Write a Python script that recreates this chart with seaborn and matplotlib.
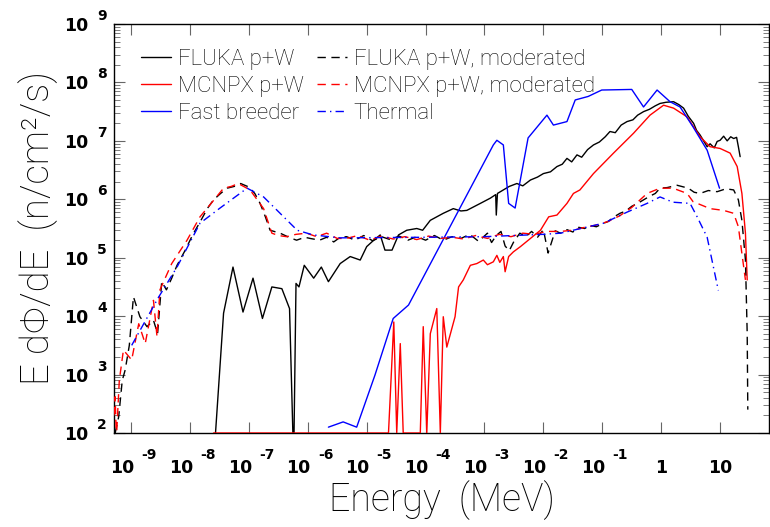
import numpy as np
import seaborn as sns
import matplotlib.pyplot as plt
import matplotlib.transforms as mtransforms

# log10(E / MeV) and log10(flux)
fluka_logE = [-7.60, -7.43, -7.27, -7.10, -6.93, -6.77, -6.61, -6.44, -6.31, -6.24, -6.20, -6.15,
              -6.06, -5.90, -5.77, -5.65, -5.45, -5.28, -5.11, -5.00, -4.88, -4.77, -4.69, -4.57,
              -4.46, -4.32, -4.15, -4.05, -3.92, -3.70, -3.53, -3.40, -3.30, -3.07, -2.90, -2.81,
              -2.80, -2.78, -2.68, -2.58, -2.45, -2.35, -2.22, -2.10, -2.00, -1.88, -1.77, -1.68,
              -1.60, -1.52, -1.43, -1.35, -1.25, -1.15, -1.05, -0.95, -0.87, -0.78, -0.68, -0.58,
              -0.48, -0.40, -0.30, -0.20, -0.10, -0.02, 0.08, 0.21, 0.30, 0.38, 0.46, 0.55, 0.60,
              0.66, 0.72, 0.78, 0.83, 0.90, 0.95, 1.00, 1.06, 1.12, 1.18, 1.23, 1.28, 1.31, 1.34]
fluka_logF = [1.5, 4.05, 4.84, 4.07, 4.65, 3.96, 4.50, 4.47, 4.13, 1.5, 4.56, 4.50,
              4.87, 4.65, 4.84, 4.59, 4.90, 5.02, 4.96, 5.19, 5.30, 5.39, 5.13, 5.13,
              5.39, 5.47, 5.50, 5.47, 5.64, 5.76, 5.84, 5.80, 5.81, 5.93, 6.02, 6.08,
              5.73, 6.10, 6.16, 6.22, 6.27, 6.23, 6.33, 6.38, 6.44, 6.47, 6.56, 6.60,
              6.70, 6.64, 6.76, 6.72, 6.85, 6.93, 6.98, 7.07, 7.16, 7.14, 7.27, 7.33,
              7.36, 7.44, 7.50, 7.54, 7.60, 7.64, 7.66, 7.67, 7.62, 7.56, 7.42, 7.30, 7.18,
              7.10, 7.00, 6.90, 6.95, 6.88, 6.99, 7.01, 7.08, 7.00, 7.07, 7.04, 7.06, 6.90, 6.73]

mcnpx_logE = [-7.60, -4.65, -4.63, -4.54, -4.49, -4.43, -4.38, -4.09, -4.04, -3.98, -3.92, -3.81,
              -3.75, -3.70, -3.64, -3.50, -3.44, -3.36, -3.24, -3.13, -3.02, -2.95, -2.85, -2.79,
              -2.74, -2.68, -2.65, -2.59, -2.51, -2.39, -2.22, -2.05, -1.91, -1.77, -1.60, -1.49,
              -1.38, -1.15, -0.81, -0.47, -0.19, 0.04, 0.21, 0.44, 0.66, 0.83, 1.00, 1.17, 1.29,
              1.37, 1.43, 1.46]
mcnpx_logF = [2.0, 2.0, 2.0, 3.90, 2.0, 3.53, 2.0, 2.0, 3.82, 2.0, 3.70, 4.13,
              2.0, 3.99, 3.47, 3.99, 4.50, 4.62, 4.87, 4.90, 4.96, 4.88, 4.93, 5.04,
              4.92, 5.02, 4.76, 5.02, 5.10, 5.19, 5.33, 5.47, 5.70, 5.73, 5.93, 6.10,
              6.16, 6.44, 6.79, 7.13, 7.44, 7.61, 7.56, 7.41, 7.07, 6.90, 6.87, 6.79, 6.56,
              6.10, 5.42, 4.62]

breeder_logE = [-5.65, -5.40, -5.17, -4.86, -4.55, -4.29, -2.85, -2.79, -2.68, -2.59, -2.48, -2.26,
                -1.94, -1.83, -1.60, -1.46, -1.24, -1.01, -0.50, -0.30, -0.07, 0.15, 0.32, 0.54,
                0.78, 0.99]
breeder_logF = [2.10, 2.19, 2.10, 2.99, 3.96, 4.19, 6.93, 7.01, 6.93, 5.93, 5.85, 7.05,
                7.44, 7.27, 7.33, 7.70, 7.76, 7.87, 7.88, 7.58, 7.87, 7.67, 7.58, 7.24,
                6.84, 6.19]

fluka_mod_logE = [-9.27, -9.21, -9.15, -9.10, -9.03, -8.96, -8.85, -8.73, -8.62, -8.55, -8.48, -8.40,
                  -8.31, -8.22, -8.08, -7.95, -7.83, -7.70, -7.60, -7.48, -7.37, -7.25, -7.14, -7.00,
                  -6.90, -6.81, -6.72, -6.64, -6.47, -6.30, -6.19, -6.05, -5.96, -5.80, -5.68, -5.56,
                  -5.45, -5.34, -5.20, -5.05, -4.90, -4.75, -4.60, -4.45, -4.30, -4.15, -4.00, -3.85,
                  -3.70, -3.55, -3.40, -3.25, -3.10, -2.95, -2.88, -2.80, -2.72, -2.65, -2.58, -2.50,
                  -2.40, -2.30, -2.20, -2.10, -2.00, -1.92, -1.80, -1.71, -1.60, -1.50, -1.40, -1.30,
                  -1.20, -1.10, -0.98, -0.90, -0.80, -0.70, -0.60, -0.50, -0.40, -0.30, -0.20, -0.10,
                  -0.02, 0.10, 0.27, 0.46, 0.56, 0.66, 0.80, 0.95, 1.10, 1.23, 1.31, 1.37, 1.43, 1.46,
                  1.47]
fluka_mod_logF = [2.0, 2.28, 2.90, 3.08, 3.50, 4.33, 3.99, 3.82, 3.93, 3.70, 4.59, 4.45,
                  4.65, 4.87, 5.13, 5.40, 5.61, 5.85, 5.99, 6.10, 6.19, 6.22, 6.27, 6.21,
                  6.10, 5.93, 5.70, 5.47, 5.42, 5.34, 5.30, 5.35, 5.33, 5.30, 5.35, 5.27,
                  5.35, 5.36, 5.30, 5.38, 5.29, 5.36, 5.31, 5.37, 5.30, 5.36, 5.30, 5.38,
                  5.30, 5.36, 5.33, 5.40, 5.28, 5.42, 5.26, 5.38, 5.45, 5.20, 5.12, 5.28,
                  5.42, 5.36, 5.45, 5.35, 5.48, 5.08, 5.46, 5.42, 5.48, 5.44, 5.52, 5.50,
                  5.55, 5.53, 5.59, 5.62, 5.70, 5.76, 5.80, 5.88, 5.93, 5.99, 6.05, 6.10,
                  6.19, 6.20, 6.24, 6.19, 6.12, 6.10, 6.15, 6.13, 6.18, 6.16, 5.99, 5.64, 4.96, 3.70,
                  2.4]

mcnpx_mod_logE = [-9.29, -9.27, -9.25, -9.20, -9.13, -8.99, -8.87, -8.76, -8.62, -8.56, -8.51, -8.31,
                  -8.05, -7.83, -7.60, -7.43, -7.30, -7.18, -6.98, -6.75, -6.61, -6.50, -6.36, -6.20,
                  -6.02, -5.85, -5.68, -5.50, -5.34, -5.15, -4.95, -4.75, -4.55, -4.35, -4.15, -3.95,
                  -3.75, -3.55, -3.35, -3.15, -2.95, -2.75, -2.55, -2.35, -2.15, -1.95, -1.71, -1.50,
                  -1.30, -1.10, -0.90, -0.70, -0.50, -0.24, -0.02, 0.20, 0.44, 0.54, 0.83, 1.06, 1.23,
                  1.31, 1.37, 1.43]
mcnpx_mod_logF = [2.3, 2.62, 1.9, 2.90, 3.42, 3.25, 3.87, 3.53, 4.27, 3.65, 4.45, 4.90,
                  5.30, 5.70, 5.98, 6.19, 6.22, 6.27, 6.16, 5.84, 5.42, 5.38, 5.36, 5.40,
                  5.42, 5.36, 5.42, 5.33, 5.33, 5.38, 5.30, 5.37, 5.32, 5.36, 5.31, 5.37,
                  5.33, 5.35, 5.32, 5.38, 5.33, 5.40, 5.36, 5.42, 5.40, 5.45, 5.45, 5.47,
                  5.52, 5.56, 5.62, 5.72, 5.86, 6.10, 6.19, 6.19, 6.10, 5.96, 5.84, 5.81, 5.76,
                  5.53, 5.07, 4.62]

thermal_logE = [-8.99, -8.53, -8.22, -7.83, -7.49, -7.03, -6.75, -6.41, -6.18, -5.91, -5.45, -4.00,
                -3.00, -2.00, -1.71, -0.98, -0.58, -0.24, -0.02, 0.20, 0.49, 0.61, 0.78, 0.97]
thermal_logF = [3.50, 4.33, 4.84, 5.59, 5.85, 6.19, 6.04, 5.70, 5.47, 5.39, 5.34, 5.35,
                5.36, 5.40, 5.42, 5.59, 5.78, 5.93, 6.04, 5.95, 5.93, 5.70, 5.35, 4.44]

xtick_exp = [-9, -8, -7, -6, -5, -4, -3, -2, -1, 0, 1]
ytick_exp = [2, 3, 4, 5, 6, 7, 8, 9]

sns.set_theme(style="ticks")
plt.rcParams["font.family"] = ["DejaVu Sans"]
plt.rcParams["text.color"] = "black"
plt.rcParams["axes.labelcolor"] = "black"
thin = dict(family=["Roboto", "Lato", "DejaVu Sans"], weight="light")

fig = plt.figure(figsize=(7.7, 5.27), dpi=100)
ax = fig.add_axes([114 / 770, 94 / 527, 655 / 770, 409 / 527])

series = [
    (fluka_logE, fluka_logF, "black", "-", "FLUKA p+W"),
    (mcnpx_logE, mcnpx_logF, "red", "-", "MCNPX p+W"),
    (breeder_logE, breeder_logF, "blue", "-", "Fast breeder"),
    (fluka_mod_logE, fluka_mod_logF, "black", (0, (6, 4)), "FLUKA p+W, moderated"),
    (mcnpx_mod_logE, mcnpx_mod_logF, "red", (0, (6, 4)), "MCNPX p+W, moderated"),
    (thermal_logE, thermal_logF, "blue", (0, (6, 3, 1, 3)), "Thermal"),
]
for le, lf, col, ls, lab in series:
    sns.lineplot(x=10.0 ** np.array(le), y=10.0 ** np.array(lf), sort=False, estimator=None,
                 color=col, linestyle=ls, linewidth=1.0, label=lab, ax=ax, zorder=3)

ax.set_xscale("log")
ax.set_yscale("log")
ax.set_xlim(10 ** -9.29, 10 ** 1.83)
ax.set_ylim(1e2, 1e9)

# IDL-style labels: bold "10" with a raised exponent drawn next to it
ax.set_xticks([10.0 ** e for e in xtick_exp], ["1" if e == 0 else "10" for e in xtick_exp])
ax.set_yticks([10.0 ** e for e in ytick_exp], ["10"] * len(ytick_exp))
ax.tick_params(which="both", direction="in", top=True, right=True, colors="0.4",
               labelcolor="black", labelsize=12.5)
ax.tick_params(which="major", length=8, width=0.8)
ax.tick_params(which="minor", length=4, width=0.6)
ax.tick_params(axis="x", pad=19)
ax.tick_params(axis="y", pad=18.5)
for lab in ax.get_xticklabels() + ax.get_yticklabels():
    lab.set_fontweight("bold")
shift = mtransforms.ScaledTranslation(3 / 100, 0, fig.dpi_scale_trans)
for e, lab in zip(xtick_exp, ax.get_xticklabels()):
    if e < 0:
        lab.set_horizontalalignment("right")
        lab.set_transform(lab.get_transform() + shift)
        ax.annotate(str(e), xy=(10.0 ** e, 0), xycoords=("data", "axes fraction"),
                    xytext=(10, -26), textcoords="offset pixels", ha="left", va="baseline",
                    fontsize=10, fontweight="bold", annotation_clip=False)
for e in ytick_exp:
    ax.annotate(str(e), xy=(0, 10.0 ** e), xycoords=("axes fraction", "data"),
                xytext=(-17, 4), textcoords="offset pixels", ha="left", va="baseline",
                fontsize=10, fontweight="bold", annotation_clip=False)
for s in ax.spines.values():
    s.set_color("black")
    s.set_linewidth(1.0)

ax.set_xlabel("Energy  (MeV)", fontsize=27, labelpad=2, color="black", **thin)
ax.set_ylabel("E d\u03a6/dE  (n/cm\u00b2/s)", fontsize=27.5, labelpad=4, color="black", **thin)

leg = ax.legend(ncol=2, frameon=False, loc="upper left", bbox_to_anchor=(0.028, 0.96),
                borderaxespad=0, handlelength=1.35, handletextpad=0.3,
                columnspacing=0.6, labelspacing=0.26, prop=dict(size=16, **thin))
for t in leg.get_texts():
    t.set_color("black")

fig.savefig("out.png", dpi=100)
